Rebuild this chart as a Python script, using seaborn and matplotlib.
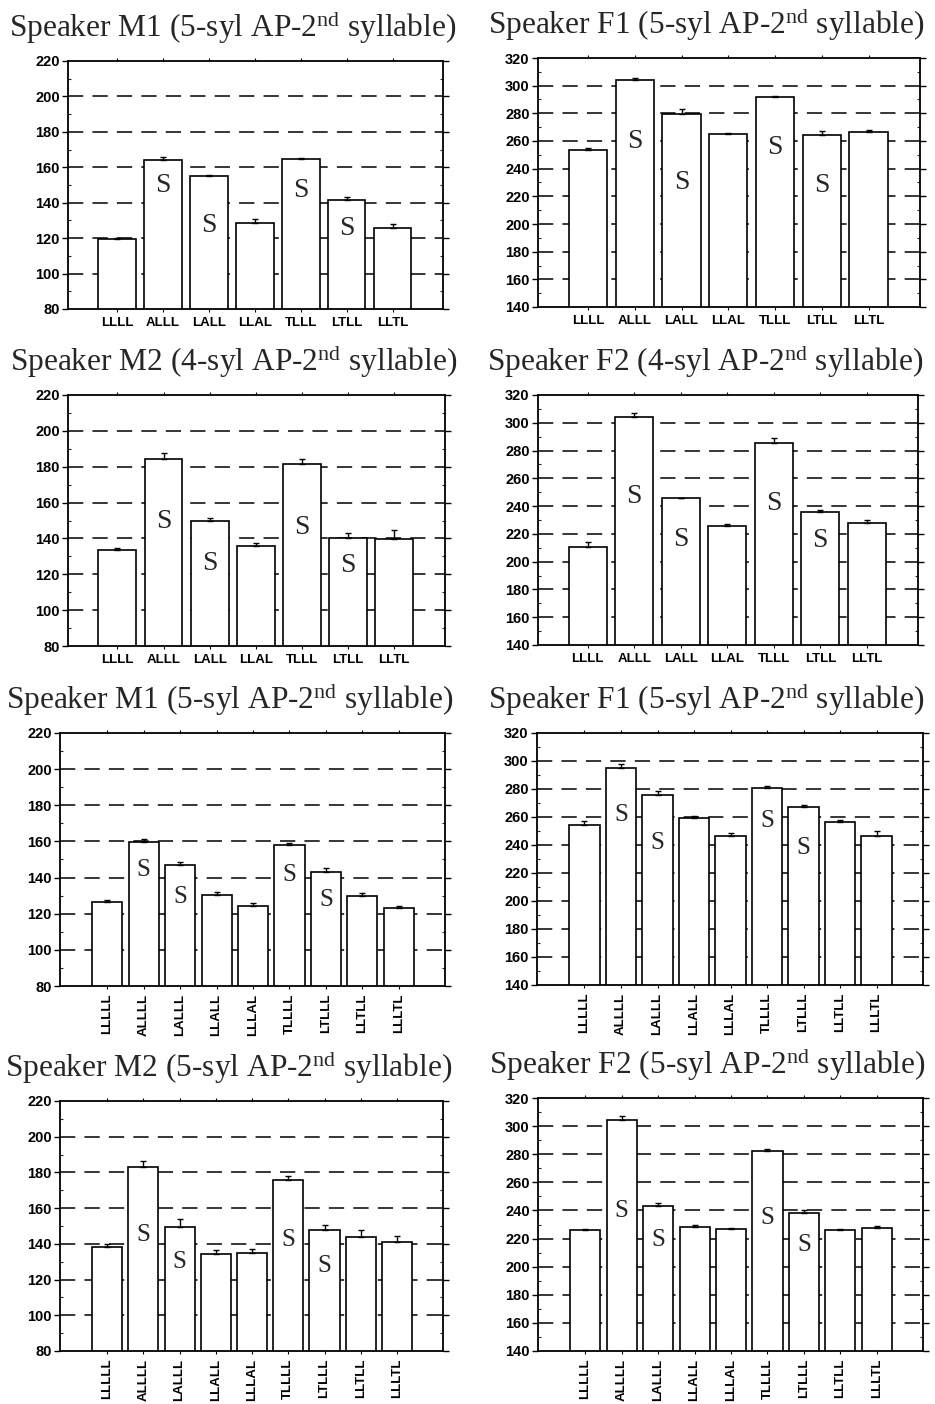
import numpy as np
import pandas as pd
import matplotlib
matplotlib.use("Agg")
import matplotlib.pyplot as plt
from matplotlib.ticker import MultipleLocator
import seaborn as sns

sns.set_style("ticks")
plt.rcParams["font.family"] = ["Liberation Sans", "DejaVu Sans"]
plt.rcParams["mathtext.fontset"] = "custom"
plt.rcParams["mathtext.rm"] = "Liberation Serif"
plt.rcParams["mathtext.it"] = "Liberation Serif:italic"

# ---- categories ----
cats4 = ["LLLL", "ALLL", "LALL", "LLAL", "TLLL", "LTLL", "LLTL"]
cats5 = ["LLLLL", "ALLLL", "LALLL", "LLALL", "LLLAL", "TLLLL", "LTLLL", "LLTLL", "LLLTL"]

# ---- mean F0 (Hz) and standard errors ----
m1_4syl = [119.5, 164.0, 155.3, 128.3, 164.5, 141.8, 125.5]
m1_4syl_err = [0.8, 1.7, 0.5, 2.3, 0.5, 1.5, 2.3]
f1_4syl = [253.3, 303.9, 279.8, 265.1, 291.8, 264.3, 266.3]
f1_4syl_err = [2.0, 1.5, 3.0, 0.5, 0.7, 2.7, 2.0]
m2_4syl = [133.4, 184.2, 150.0, 135.8, 181.5, 140.1, 139.6]
m2_4syl_err = [1.3, 3.2, 1.5, 1.9, 2.6, 3.2, 5.0]
f2_4syl = [210.6, 304.0, 245.6, 225.9, 285.2, 235.5, 227.6]
f2_4syl_err = [3.6, 2.9, 0.5, 1.4, 3.8, 1.4, 2.2]

m1_5syl = [126.3, 159.6, 147.0, 130.4, 124.1, 158.1, 143.1, 130.0, 123.1]
m1_5syl_err = [1.5, 2.0, 1.5, 1.7, 1.7, 1.1, 2.0, 1.7, 1.3]
f1_5syl = [254.0, 294.7, 275.9, 259.0, 246.6, 280.7, 266.8, 256.3, 246.6]
f1_5syl_err = [2.9, 3.0, 2.9, 1.4, 2.0, 1.7, 1.7, 1.7, 3.1]
m2_5syl = [138.0, 183.2, 149.5, 134.4, 135.0, 175.5, 147.7, 143.9, 141.3]
m2_5syl_err = [1.7, 3.4, 4.7, 2.0, 2.0, 2.4, 2.8, 3.7, 3.0]
f2_5syl = [226.1, 304.1, 243.4, 228.5, 226.8, 282.4, 238.0, 226.1, 227.5]
f2_5syl_err = [1.0, 3.3, 1.7, 1.0, 0.7, 1.0, 2.4, 1.0, 1.2]

# ---- "S" markers: (category, F0 level of the letter) ----
s_m1_4 = [("ALLL", 150.0), ("LALL", 127.0), ("TLLL", 147.0), ("LTLL", 125.6)]
s_f1_4 = [("ALLL", 259.8), ("LALL", 230.0), ("TLLL", 255.4), ("LTLL", 228.0)]
s_m2_4 = [("ALLL", 149.2), ("LALL", 126.0), ("TLLL", 146.0), ("LTLL", 124.7)]
s_f2_4 = [("ALLL", 246.8), ("LALL", 216.3), ("TLLL", 242.0), ("LTLL", 214.9)]
s_m1_5 = [("ALLLL", 144.2), ("LALLL", 129.4), ("TLLLL", 141.4), ("LTLLL", 127.6)]
s_f1_5 = [("ALLLL", 261.6), ("LALLL", 241.3), ("TLLLL", 256.8), ("LTLLL", 237.8)]
s_m2_5 = [("ALLLL", 144.9), ("LALLL", 129.9), ("TLLLL", 142.0), ("LTLLL", 127.5)]
s_f2_5 = [("ALLLL", 239.9), ("LALLL", 219.0), ("TLLLL", 234.4), ("LTLLL", 215.4)]

titles = [
    "Speaker M1 (5-syl AP-2$^{\\mathrm{nd}}$ syllable)",
    "Speaker F1 (5-syl AP-2$^{\\mathrm{nd}}$ syllable)",
    "Speaker M2 (4-syl AP-2$^{\\mathrm{nd}}$ syllable)",
    "Speaker F2 (4-syl AP-2$^{\\mathrm{nd}}$ syllable)",
    "Speaker M1 (5-syl AP-2$^{\\mathrm{nd}}$ syllable)",
    "Speaker F1 (5-syl AP-2$^{\\mathrm{nd}}$ syllable)",
    "Speaker M2 (5-syl AP-2$^{\\mathrm{nd}}$ syllable)",
    "Speaker F2 (5-syl AP-2$^{\\mathrm{nd}}$ syllable)",
]

panels = [
    (cats4, m1_4syl, m1_4syl_err, s_m1_4, (80, 220)),
    (cats4, f1_4syl, f1_4syl_err, s_f1_4, (140, 320)),
    (cats4, m2_4syl, m2_4syl_err, s_m2_4, (80, 220)),
    (cats4, f2_4syl, f2_4syl_err, s_f2_4, (140, 320)),
    (cats5, m1_5syl, m1_5syl_err, s_m1_5, (80, 220)),
    (cats5, f1_5syl, f1_5syl_err, s_f1_5, (140, 320)),
    (cats5, m2_5syl, m2_5syl_err, s_m2_5, (80, 220)),
    (cats5, f2_5syl, f2_5syl_err, s_f2_5, (140, 320)),
]

W, H = 935, 1404
fig = plt.figure(figsize=(W / 100, H / 100), dpi=100)

# axes boxes in pixels: (left, top, right, bottom)
boxes = [
    (68, 61, 443, 309), (538, 58, 920, 307),
    (68, 395, 445, 646), (538, 395, 918, 645),
    (60, 733, 445, 986), (537, 733, 923, 985),
    (60, 1101, 443, 1351), (538, 1098, 923, 1351),
]

for (cats, vals, errs, smarks, ylim), (l, t, r, b), title in zip(panels, boxes, titles):
    ax = fig.add_axes([l / W, 1 - b / H, (r - l) / W, (b - t) / H])
    n = len(cats)

    # dashed reference lines, drawn first so the bars cover them
    major = np.arange(ylim[0] + 20, ylim[1], 20)
    for yv in major:
        ax.axhline(yv, color="black", lw=1.1, ls=(0, (10, 6)), zorder=0.5)

    df = pd.DataFrame({"pattern": cats, "f0": vals})
    width = 0.82 if n == 7 else 0.83
    sns.barplot(data=df, x="pattern", y="f0", order=cats, color="white",
                edgecolor="black", linewidth=1.2, width=width, errorbar=None,
                saturation=1, ax=ax)
    for p in ax.patches:
        p.set_facecolor("white")
        p.set_zorder(3)
    pos = np.arange(n)
    ax.errorbar(pos, vals, yerr=[np.zeros(n), errs], fmt="none",
                ecolor="black", elinewidth=1.0, capsize=2.5, capthick=1.0, zorder=4)

    for cat, yv in smarks:
        ax.text(cats.index(cat), yv, "S", ha="center", va="center",
                fontsize=20 if n == 7 else 18, family="Liberation Serif", zorder=5)

    ax.set_ylim(*ylim)
    if n == 7:
        ax.set_xlim(-1.07, 7.1)
    else:
        ax.set_xlim(-1.3, 9.27)
    ax.yaxis.set_major_locator(MultipleLocator(20))
    ax.yaxis.set_minor_locator(MultipleLocator(10))
    ax.set_xlabel("")
    ax.set_ylabel("")
    for sp in ax.spines.values():
        sp.set_visible(True)
        sp.set_linewidth(1.3)
        sp.set_color("black")
        sp.set_zorder(6)
    ax.tick_params(axis="y", which="major", direction="out", length=4, width=1.0,
                   labelsize=10.5, pad=2, right=True, colors="black")
    ax.tick_params(axis="y", which="minor", direction="in", length=2, width=0.8,
                   right=True)
    ax.tick_params(axis="x", which="major", direction="out", length=2.5, width=0.8,
                   labelsize=9.5, pad=3, top=True, colors="black")
    for lab in ax.get_yticklabels() + ax.get_xticklabels():
        lab.set_fontweight("bold")
    if n == 9:
        ax.tick_params(axis="x", labelrotation=90)
    ax.set_title(title, family="Liberation Serif", fontsize=22.6, x=0.44, pad=17)

fig.savefig("out.png", dpi=100, facecolor="white")
